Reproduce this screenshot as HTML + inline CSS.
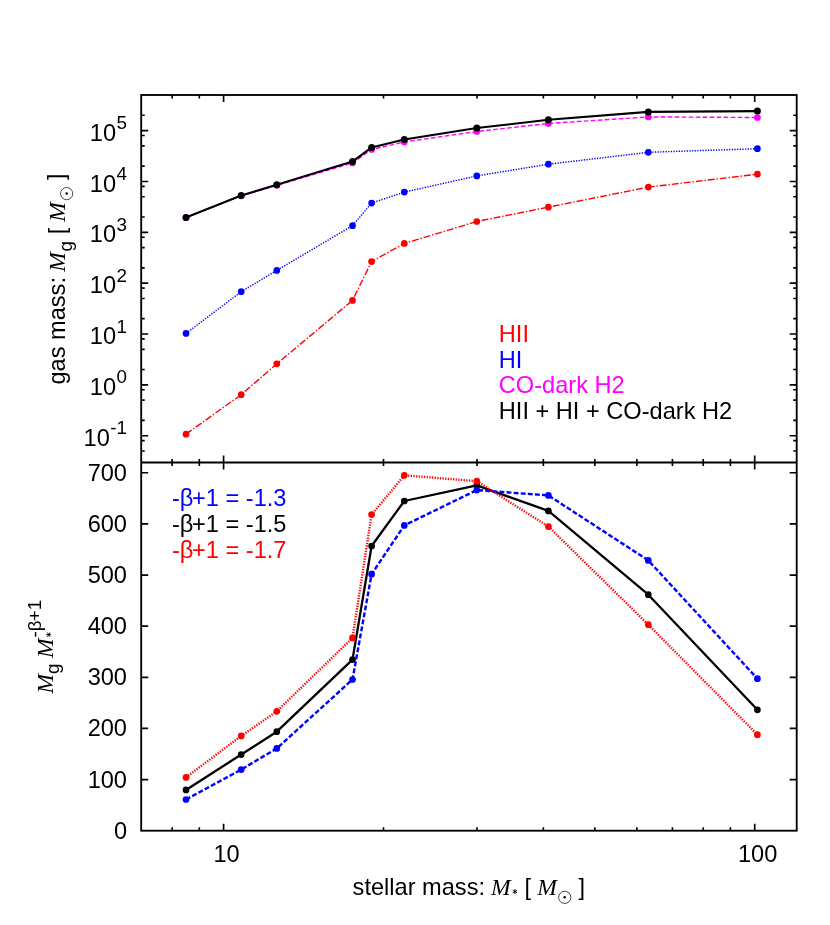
<!DOCTYPE html>
<html><head><meta charset="utf-8"><title>plot</title>
<style>html,body{margin:0;padding:0;background:#fff}svg{display:block;will-change:transform}</style></head>
<body>
<svg width="830" height="925" viewBox="0 0 830 925">
<rect width="830" height="925" fill="#fff"/>
<path d="M172.13 95.00L172.13 98.50M172.13 459.00L172.13 466.00M172.13 830.70L172.13 827.20M199.30 95.00L199.30 98.50M199.30 459.00L199.30 466.00M199.30 830.70L199.30 827.20M223.60 95.00L223.60 102.00M223.60 455.50L223.60 469.50M223.60 830.70L223.60 823.70M383.48 95.00L383.48 98.50M383.48 459.00L383.48 466.00M383.48 830.70L383.48 827.20M477.00 95.00L477.00 98.50M477.00 459.00L477.00 466.00M477.00 830.70L477.00 827.20M543.35 95.00L543.35 98.50M543.35 459.00L543.35 466.00M543.35 830.70L543.35 827.20M594.82 95.00L594.82 98.50M594.82 459.00L594.82 466.00M594.82 830.70L594.82 827.20M636.88 95.00L636.88 98.50M636.88 459.00L636.88 466.00M636.88 830.70L636.88 827.20M672.43 95.00L672.43 98.50M672.43 459.00L672.43 466.00M672.43 830.70L672.43 827.20M703.23 95.00L703.23 98.50M703.23 459.00L703.23 466.00M703.23 830.70L703.23 827.20M730.40 95.00L730.40 98.50M730.40 459.00L730.40 466.00M730.40 830.70L730.40 827.20M754.70 95.00L754.70 102.00M754.70 455.50L754.70 469.50M754.70 830.70L754.70 823.70M141.20 451.01L144.70 451.01M796.70 451.01L793.20 451.01M141.20 440.63L144.70 440.63M796.70 440.63L793.20 440.63M141.20 435.70L148.20 435.70M796.70 435.70L789.70 435.70M141.20 420.39L144.70 420.39M796.70 420.39L793.20 420.39M141.20 400.16L144.70 400.16M796.70 400.16L793.20 400.16M141.20 389.78L144.70 389.78M796.70 389.78L793.20 389.78M141.20 384.85L148.20 384.85M796.70 384.85L789.70 384.85M141.20 369.54L144.70 369.54M796.70 369.54L793.20 369.54M141.20 349.31L144.70 349.31M796.70 349.31L793.20 349.31M141.20 338.93L144.70 338.93M796.70 338.93L793.20 338.93M141.20 334.00L148.20 334.00M796.70 334.00L789.70 334.00M141.20 318.69L144.70 318.69M796.70 318.69L793.20 318.69M141.20 298.46L144.70 298.46M796.70 298.46L793.20 298.46M141.20 288.08L144.70 288.08M796.70 288.08L793.20 288.08M141.20 283.15L148.20 283.15M796.70 283.15L789.70 283.15M141.20 267.84L144.70 267.84M796.70 267.84L793.20 267.84M141.20 247.61L144.70 247.61M796.70 247.61L793.20 247.61M141.20 237.23L144.70 237.23M796.70 237.23L793.20 237.23M141.20 232.30L148.20 232.30M796.70 232.30L789.70 232.30M141.20 216.99L144.70 216.99M796.70 216.99L793.20 216.99M141.20 196.76L144.70 196.76M796.70 196.76L793.20 196.76M141.20 186.38L144.70 186.38M796.70 186.38L793.20 186.38M141.20 181.45L148.20 181.45M796.70 181.45L789.70 181.45M141.20 166.14L144.70 166.14M796.70 166.14L793.20 166.14M141.20 145.91L144.70 145.91M796.70 145.91L793.20 145.91M141.20 135.53L144.70 135.53M796.70 135.53L793.20 135.53M141.20 130.60L148.20 130.60M796.70 130.60L789.70 130.60M141.20 115.29L144.70 115.29M796.70 115.29L793.20 115.29M141.20 779.57L148.20 779.57M796.70 779.57L789.70 779.57M141.20 728.44L148.20 728.44M796.70 728.44L789.70 728.44M141.20 677.31L148.20 677.31M796.70 677.31L789.70 677.31M141.20 626.18L148.20 626.18M796.70 626.18L789.70 626.18M141.20 575.05L148.20 575.05M796.70 575.05L789.70 575.05M141.20 523.92L148.20 523.92M796.70 523.92L789.70 523.92M141.20 472.79L148.20 472.79M796.70 472.79L789.70 472.79" stroke="#000" stroke-width="1.65" fill="none"/>
<polyline points="186.00,434.15 241.20,394.70 276.80,363.80 352.50,300.40 371.60,261.55 404.30,243.40 476.80,221.50 548.40,207.15 648.30,187.10 757.40,174.20" fill="none" stroke="#ff0000" stroke-width="1.4" stroke-dasharray="6.9 1.9 1.4 1.9"/><circle cx="186.00" cy="434.15" r="3.35" fill="#ff0000"/><circle cx="241.20" cy="394.70" r="3.35" fill="#ff0000"/><circle cx="276.80" cy="363.80" r="3.35" fill="#ff0000"/><circle cx="352.50" cy="300.40" r="3.35" fill="#ff0000"/><circle cx="371.60" cy="261.55" r="3.35" fill="#ff0000"/><circle cx="404.30" cy="243.40" r="3.35" fill="#ff0000"/><circle cx="476.80" cy="221.50" r="3.35" fill="#ff0000"/><circle cx="548.40" cy="207.15" r="3.35" fill="#ff0000"/><circle cx="648.30" cy="187.10" r="3.35" fill="#ff0000"/><circle cx="757.40" cy="174.20" r="3.35" fill="#ff0000"/>
<polyline points="186.00,333.40 241.20,291.70 276.80,270.40 352.50,225.70 371.60,203.05 404.30,192.10 476.80,175.90 548.40,164.20 648.30,152.30 757.40,148.70" fill="none" stroke="#0000ff" stroke-width="1.45" stroke-dasharray="1.3 1.35"/><circle cx="186.00" cy="333.40" r="3.35" fill="#0000ff"/><circle cx="241.20" cy="291.70" r="3.35" fill="#0000ff"/><circle cx="276.80" cy="270.40" r="3.35" fill="#0000ff"/><circle cx="352.50" cy="225.70" r="3.35" fill="#0000ff"/><circle cx="371.60" cy="203.05" r="3.35" fill="#0000ff"/><circle cx="404.30" cy="192.10" r="3.35" fill="#0000ff"/><circle cx="476.80" cy="175.90" r="3.35" fill="#0000ff"/><circle cx="548.40" cy="164.20" r="3.35" fill="#0000ff"/><circle cx="648.30" cy="152.30" r="3.35" fill="#0000ff"/><circle cx="757.40" cy="148.70" r="3.35" fill="#0000ff"/>
<polyline points="186.00,217.50 241.20,195.80 276.80,185.30 352.50,162.90 371.60,149.50 404.30,142.00 476.80,131.50 548.40,123.50 648.30,116.90 757.40,117.50" fill="none" stroke="#ff00ff" stroke-width="1.4" stroke-dasharray="4.7 2.3"/><circle cx="186.00" cy="217.50" r="3.35" fill="#ff00ff"/><circle cx="241.20" cy="195.80" r="3.35" fill="#ff00ff"/><circle cx="276.80" cy="185.30" r="3.35" fill="#ff00ff"/><circle cx="352.50" cy="162.90" r="3.35" fill="#ff00ff"/><circle cx="371.60" cy="149.50" r="3.35" fill="#ff00ff"/><circle cx="404.30" cy="142.00" r="3.35" fill="#ff00ff"/><circle cx="476.80" cy="131.50" r="3.35" fill="#ff00ff"/><circle cx="548.40" cy="123.50" r="3.35" fill="#ff00ff"/><circle cx="648.30" cy="116.90" r="3.35" fill="#ff00ff"/><circle cx="757.40" cy="117.50" r="3.35" fill="#ff00ff"/>
<polyline points="186.00,217.40 241.20,195.50 276.80,184.80 352.50,161.55 371.60,147.45 404.30,139.50 476.80,128.06 548.40,119.76 648.30,111.90 757.40,111.10" fill="none" stroke="#000000" stroke-width="2.1" stroke-linejoin="round"/><circle cx="186.00" cy="217.40" r="3.5" fill="#000000"/><circle cx="241.20" cy="195.50" r="3.5" fill="#000000"/><circle cx="276.80" cy="184.80" r="3.5" fill="#000000"/><circle cx="352.50" cy="161.55" r="3.5" fill="#000000"/><circle cx="371.60" cy="147.45" r="3.5" fill="#000000"/><circle cx="404.30" cy="139.50" r="3.5" fill="#000000"/><circle cx="476.80" cy="128.06" r="3.5" fill="#000000"/><circle cx="548.40" cy="119.76" r="3.5" fill="#000000"/><circle cx="648.30" cy="111.90" r="3.5" fill="#000000"/><circle cx="757.40" cy="111.10" r="3.5" fill="#000000"/>
<polyline points="186.00,789.95 241.20,754.55 276.80,731.70 352.50,659.60 371.60,546.00 404.30,501.00 476.80,485.30 548.40,510.90 648.30,594.70 757.40,709.80" fill="none" stroke="#000000" stroke-width="2.3" stroke-linejoin="round"/><circle cx="186.00" cy="789.95" r="3.35" fill="#000000"/><circle cx="241.20" cy="754.55" r="3.35" fill="#000000"/><circle cx="276.80" cy="731.70" r="3.35" fill="#000000"/><circle cx="352.50" cy="659.60" r="3.35" fill="#000000"/><circle cx="371.60" cy="546.00" r="3.35" fill="#000000"/><circle cx="404.30" cy="501.00" r="3.35" fill="#000000"/><circle cx="476.80" cy="485.30" r="3.35" fill="#000000"/><circle cx="548.40" cy="510.90" r="3.35" fill="#000000"/><circle cx="648.30" cy="594.70" r="3.35" fill="#000000"/><circle cx="757.40" cy="709.80" r="3.35" fill="#000000"/>
<polyline points="186.00,799.50 241.20,769.60 276.80,748.40 352.50,679.50 371.60,574.15 404.30,525.40 476.80,490.10 548.40,495.40 648.30,560.40 757.40,678.70" fill="none" stroke="#0000ff" stroke-width="2.4" stroke-dasharray="4.9 2.2"/><circle cx="186.00" cy="799.50" r="3.35" fill="#0000ff"/><circle cx="241.20" cy="769.60" r="3.35" fill="#0000ff"/><circle cx="276.80" cy="748.40" r="3.35" fill="#0000ff"/><circle cx="352.50" cy="679.50" r="3.35" fill="#0000ff"/><circle cx="371.60" cy="574.15" r="3.35" fill="#0000ff"/><circle cx="404.30" cy="525.40" r="3.35" fill="#0000ff"/><circle cx="476.80" cy="490.10" r="3.35" fill="#0000ff"/><circle cx="548.40" cy="495.40" r="3.35" fill="#0000ff"/><circle cx="648.30" cy="560.40" r="3.35" fill="#0000ff"/><circle cx="757.40" cy="678.70" r="3.35" fill="#0000ff"/>
<polyline points="186.00,777.40 241.20,735.90 276.80,711.30 352.50,637.90 371.60,514.60 404.30,475.30 476.80,481.20 548.40,526.60 648.30,624.65 757.40,734.70" fill="none" stroke="#ff0000" stroke-width="2.4" stroke-dasharray="1.3 1.35"/><circle cx="186.00" cy="777.40" r="3.35" fill="#ff0000"/><circle cx="241.20" cy="735.90" r="3.35" fill="#ff0000"/><circle cx="276.80" cy="711.30" r="3.35" fill="#ff0000"/><circle cx="352.50" cy="637.90" r="3.35" fill="#ff0000"/><circle cx="371.60" cy="514.60" r="3.35" fill="#ff0000"/><circle cx="404.30" cy="475.30" r="3.35" fill="#ff0000"/><circle cx="476.80" cy="481.20" r="3.35" fill="#ff0000"/><circle cx="548.40" cy="526.60" r="3.35" fill="#ff0000"/><circle cx="648.30" cy="624.65" r="3.35" fill="#ff0000"/><circle cx="757.40" cy="734.70" r="3.35" fill="#ff0000"/>
<rect x="141.2" y="95.0" width="655.5" height="735.7" fill="none" stroke="#000" stroke-width="1.85"/>
<line x1="141.2" y1="462.5" x2="796.7" y2="462.5" stroke="#000" stroke-width="1.85"/>
<g font-family="Liberation Sans, sans-serif" font-size="23.6" fill="#000">
<text x="127.1" y="445.80" text-anchor="end">10<tspan font-size="18.88" dx="0.5" dy="-11.6">-1</tspan></text>
<text x="127.1" y="394.95" text-anchor="end">10<tspan font-size="18.88" dx="0.5" dy="-11.6">0</tspan></text>
<text x="127.1" y="344.10" text-anchor="end">10<tspan font-size="18.88" dx="0.5" dy="-11.6">1</tspan></text>
<text x="127.1" y="293.25" text-anchor="end">10<tspan font-size="18.88" dx="0.5" dy="-11.6">2</tspan></text>
<text x="127.1" y="242.40" text-anchor="end">10<tspan font-size="18.88" dx="0.5" dy="-11.6">3</tspan></text>
<text x="127.1" y="191.55" text-anchor="end">10<tspan font-size="18.88" dx="0.5" dy="-11.6">4</tspan></text>
<text x="127.1" y="140.70" text-anchor="end">10<tspan font-size="18.88" dx="0.5" dy="-11.6">5</tspan></text>
<text x="127.0" y="838.70" text-anchor="end">0</text>
<text x="127.0" y="787.57" text-anchor="end">100</text>
<text x="127.0" y="736.44" text-anchor="end">200</text>
<text x="127.0" y="685.31" text-anchor="end">300</text>
<text x="127.0" y="634.18" text-anchor="end">400</text>
<text x="127.0" y="583.05" text-anchor="end">500</text>
<text x="127.0" y="531.92" text-anchor="end">600</text>
<text x="127.0" y="480.79" text-anchor="end">700</text>
<text x="226.60" y="862.2" text-anchor="middle">10</text>
<text x="757.70" y="862.2" text-anchor="middle">100</text>
<text x="498.8" y="342.40" fill="#ff0000">HII</text>
<text x="498.8" y="367.82" fill="#0000ff">HI</text>
<text x="498.8" y="393.25" fill="#ff00ff">CO-dark H2</text>
<text x="498.8" y="418.67" fill="#000000">HII + HI + CO-dark H2</text>
<text x="171.9" y="506.46" fill="#0000ff">-β<tspan dx="-1.3">+1 = -1.3</tspan></text>
<text x="171.9" y="532.02" fill="#000000">-β<tspan dx="-1.3">+1 = -1.5</tspan></text>
<text x="171.9" y="557.59" fill="#ff0000">-β<tspan dx="-1.3">+1 = -1.7</tspan></text>
<text x="352.6" y="894.9">stellar mass:</text>
<text x="491.0" y="894.6" font-family="Liberation Serif, serif" font-style="italic">M</text>
<path d="M514.90 889.10L514.90 894.10M512.73 890.35L517.07 892.85M517.07 890.35L512.73 892.85" stroke="#000" stroke-width="0.95" fill="none"/>
<text x="524.6" y="894.6">[</text>
<text x="537.2" y="894.6" font-family="Liberation Serif, serif" font-style="italic">M</text>
<circle cx="564.7" cy="897.35" r="6.1" fill="none" stroke="#000" stroke-width="0.72"/><circle cx="564.7" cy="897.35" r="1.25" fill="#000"/>
<text x="578.5" y="894.6">]</text>
<g transform="translate(64.9,383.4) rotate(-90)">
<text x="-1.2" y="0">gas mass:</text>
<text x="111.7" y="0" font-family="Liberation Serif, serif" font-style="italic">M</text>
<text x="132.0" y="6.6" font-size="18.88">g</text>
<text x="149.2" y="0">[</text>
<text x="161.7" y="0" font-family="Liberation Serif, serif" font-style="italic">M</text>
<circle cx="189.8" cy="1.75" r="6.1" fill="none" stroke="#000" stroke-width="0.72"/><circle cx="189.8" cy="1.75" r="1.25" fill="#000"/>
<text x="203.4" y="-0.8">]</text>
</g>
<g transform="translate(52.7,692.6) rotate(-90)">
<text x="-0.9" y="0" font-family="Liberation Serif, serif" font-style="italic">M</text>
<text x="18.6" y="6.2" font-size="18.88">g</text>
<text x="34.6" y="0" font-family="Liberation Serif, serif" font-style="italic">M</text>
<path d="M57.90 -6.50L57.90 -1.50M55.73 -5.25L60.07 -2.75M60.07 -5.25L55.73 -2.75" stroke="#000" stroke-width="0.95" fill="none"/>
<text x="55.1" y="-12.0" font-size="18.88">-β<tspan dx="-1">+1</tspan></text>
</g>
</g>
</svg>
</body></html>
